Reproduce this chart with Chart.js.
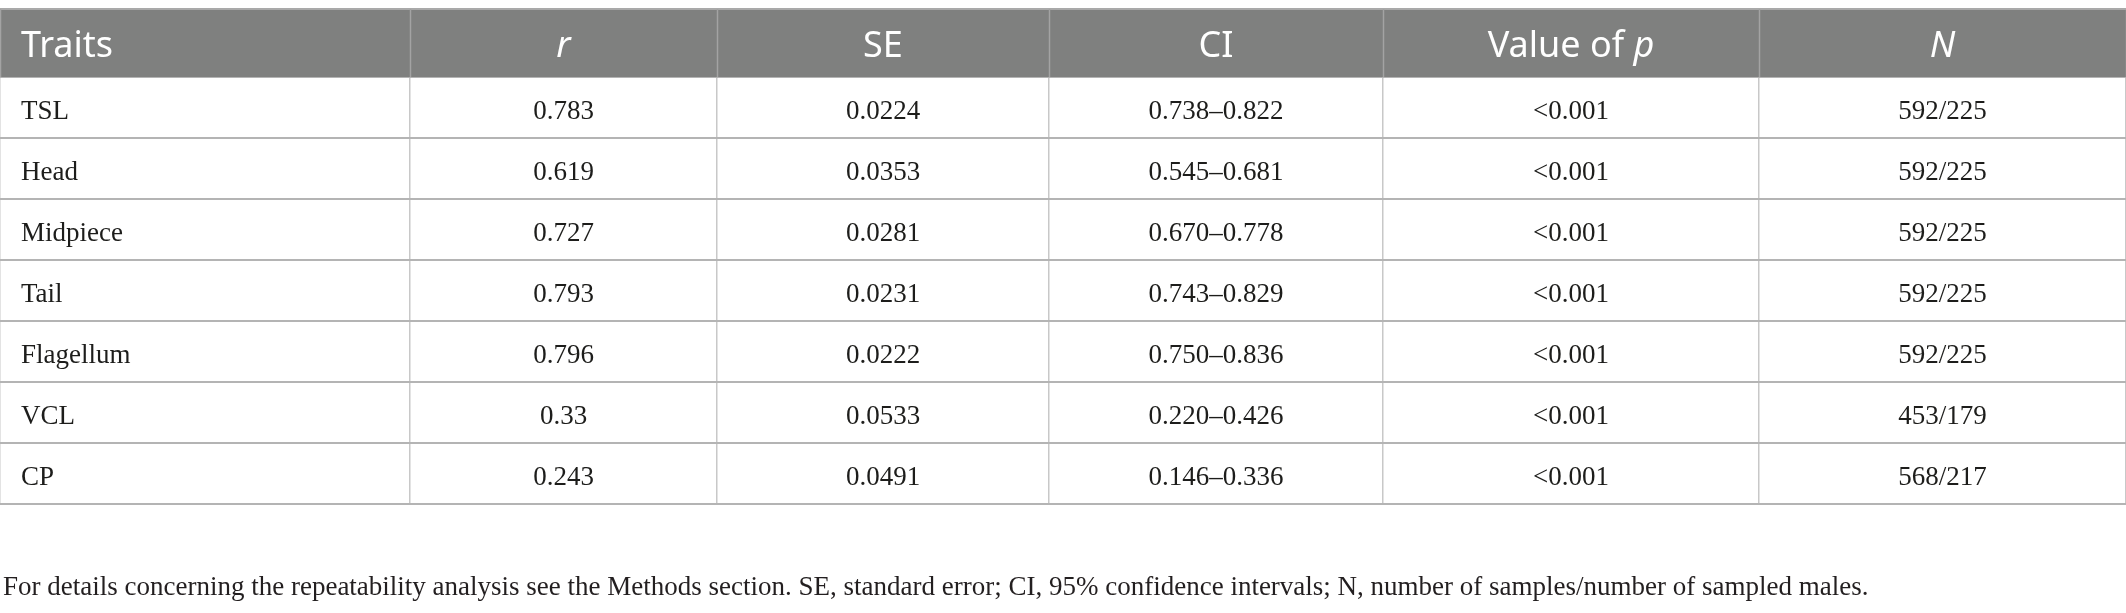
<!DOCTYPE html>
<html>
<head>
<meta charset="utf-8">
<script src="https://cdn.jsdelivr.net/npm/chart.js@4.4.1/dist/chart.umd.min.js"></script>
<style>
  html, body { margin: 0; padding: 0; background: #ffffff; }
  #wrap { position: relative; width: 2126px; height: 613px; }
</style>
</head>
<body>
<div id="wrap"><canvas id="repeatTable"></canvas></div>
<script>
// Table content
const traits = ['TSL', 'Head', 'Midpiece', 'Tail', 'Flagellum', 'VCL', 'CP'];
const rValues = ['0.783', '0.619', '0.727', '0.793', '0.796', '0.33', '0.243'];
const seValues = ['0.0224', '0.0353', '0.0281', '0.0231', '0.0222', '0.0533', '0.0491'];
const ciValues = ['0.738–0.822', '0.545–0.681', '0.670–0.778', '0.743–0.829', '0.750–0.836', '0.220–0.426', '0.146–0.336'];
const pValues = ['<0.001', '<0.001', '<0.001', '<0.001', '<0.001', '<0.001', '<0.001'];
const nValues = ['592/225', '592/225', '592/225', '592/225', '592/225', '453/179', '568/217'];

// header labels as [text, italic] runs
const headers = [
    [['Traits', false]],
    [['r', true]],
    [['SE', false]],
    [['CI', false]],
    [['Value of ', false], ['p', true]],
    [['N', true]]
];
const footnote = 'For details concerning the repeatability analysis see the Methods section. SE, standard error; CI, 95% confidence intervals; N, number of samples/number of sampled males.';

// column edges on the x scale
const colEdges = [0, 410, 717, 1049, 1383, 1759, 2126];

const bodyColumns = [traits, rValues, seValues, ciValues, pValues, nValues];

const HEADER_TOP = 9;
const BODY_FONT = '27px "Liberation Serif", "Times New Roman", serif';
const HEAD_FONT = '36px "Noto Sans", "Open Sans", sans-serif';
const HEAD_FONT_I = 'italic 36px "Noto Sans", "Open Sans", sans-serif';

function drawRuns(ctx, runs, x, baseline, align) {
    let total = 0;
    runs.forEach(run => {
        ctx.font = run[1] ? HEAD_FONT_I : HEAD_FONT;
        total += ctx.measureText(run[0]).width;
    });
    let cx = align === 'left' ? x : x - total / 2;
    runs.forEach(run => {
        ctx.font = run[1] ? HEAD_FONT_I : HEAD_FONT;
        ctx.fillText(run[0], cx, baseline);
        cx += ctx.measureText(run[0]).width;
    });
}

const tablePlugin = {
    id: 'tableCells',
    afterDraw(chart) {
        const ctx = chart.ctx;
        const area = chart.chartArea;
        const x = chart.scales.x;
        const y = chart.scales.y;

        ctx.save();
        // header band
        ctx.fillStyle = '#7f807f';
        ctx.fillRect(area.left, HEADER_TOP, area.right - area.left, area.top - HEADER_TOP);
        ctx.strokeStyle = '#a9a9a9';
        ctx.lineWidth = 2;
        ctx.beginPath();
        ctx.moveTo(area.left, HEADER_TOP);
        ctx.lineTo(area.right, HEADER_TOP);
        ctx.stroke();

        ctx.strokeStyle = '#a3a3a3';
        ctx.lineWidth = 1.5;
        colEdges.forEach(edge => {
            const px = Math.round(x.getPixelForValue(edge)) + 0.5;
            ctx.beginPath();
            ctx.moveTo(px, HEADER_TOP);
            ctx.lineTo(px, area.top);
            ctx.stroke();
        });

        // header text
        ctx.fillStyle = '#ffffff';
        ctx.textBaseline = 'alphabetic';
        headers.forEach((runs, c) => {
            const left = x.getPixelForValue(colEdges[c]);
            const right = x.getPixelForValue(colEdges[c + 1]);
            if (c === 0) {
                drawRuns(ctx, runs, left + 21, area.top - 20, 'left');
            } else {
                drawRuns(ctx, runs, (left + right) / 2, area.top - 20, 'center');
            }
        });

        // body cells
        ctx.fillStyle = '#1d1d1b';
        ctx.font = BODY_FONT;
        bodyColumns.forEach((col, c) => {
            const left = x.getPixelForValue(colEdges[c]);
            const right = x.getPixelForValue(colEdges[c + 1]);
            col.forEach((txt, i) => {
                const base = y.getPixelForValue(i) + 11.5;
                if (c === 0) {
                    ctx.textAlign = 'left';
                    ctx.fillText(txt, left + 21, base);
                } else {
                    ctx.textAlign = 'center';
                    ctx.fillText(txt, (left + right) / 2, base);
                }
            });
        });

        // footnote
        ctx.textAlign = 'left';
        ctx.fillStyle = '#231f20';
        ctx.font = BODY_FONT;
        ctx.fillText(footnote, area.left + 3, 595);
        ctx.restore();
    }
};

const chart = new Chart(document.getElementById('repeatTable'), {
    type: 'scatter',
    data: {
        labels: traits,
        yLabels: traits,
        datasets: []
    },
    options: {
        responsive: true,
        maintainAspectRatio: false,
        animation: false,
        layout: {
            padding: { top: 77, bottom: 109, left: 0, right: 0 }
        },
        plugins: {
            legend: { display: false },
            tooltip: { enabled: false },
            title: { display: false }
        },
        scales: {
            x: {
                type: 'linear',
                min: colEdges[0],
                max: colEdges[colEdges.length - 1],
                afterBuildTicks: scale => {
                    scale.ticks = colEdges.map(v => ({ value: v }));
                },
                ticks: { display: false },
                grid: { color: '#c8c8c8', lineWidth: 1.5, drawTicks: false },
                border: { display: false }
            },
            y: {
                type: 'category',
                offset: true,
                ticks: { display: false },
                grid: { offset: true, color: '#b4b4b4', lineWidth: 2, drawTicks: false },
                border: { display: false }
            }
        }
    },
    plugins: [tablePlugin]
});
</script>
</body>
</html>
